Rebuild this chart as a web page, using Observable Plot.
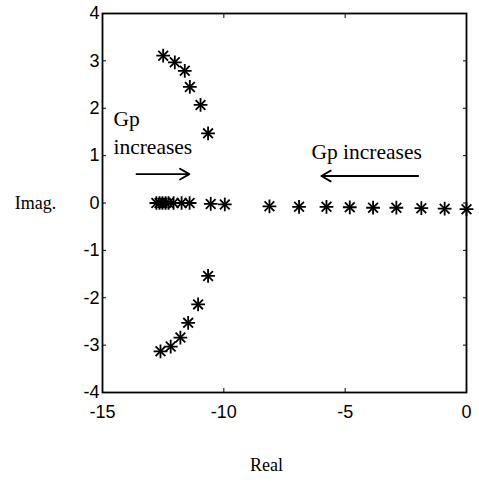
<!DOCTYPE html>
<html><head><meta charset="utf-8">
<script src="https://cdn.jsdelivr.net/npm/d3@7"></script>
<script src="https://cdn.jsdelivr.net/npm/@observablehq/plot@0.6"></script>
<style>body{margin:0;background:#fff}</style>
</head><body><div id="chart"></div>
<script>
// Upper complex branch
const upperX = [-12.50, -12.02, -11.61, -11.40, -10.96, -10.65];
const upperY = [3.11, 2.97, 2.79, 2.45, 2.07, 1.47];
// Lower complex branch
const lowerX = [-12.61, -12.19, -11.79, -11.47, -11.06, -10.65];
const lowerY = [-3.13, -3.03, -2.84, -2.53, -2.14, -1.54];
// Real-axis poles
const realX = [-12.78, -12.65, -12.53, -12.40, -12.28, -12.07, -11.74, -11.41, -10.54, -9.96, -8.12, -6.90, -5.77, -4.81, -3.85, -2.89, -1.86, -0.90, 0];
const realY = [0, 0, 0, 0, 0, 0, 0, 0, -0.02, -0.03, -0.07, -0.08, -0.08, -0.09, -0.10, -0.10, -0.11, -0.12, -0.13];
// Ticks
const xTicks = [-15, -10, -5, 0];
const yTicks = [-4, -3, -2, -1, 0, 1, 2, 3, 4];
// Annotations
const noteText = ["Gp", "increases", "Gp increases"];
const noteX = [-14.55, -14.55, -6.39];
const noteY = [1.63, 1.04, 0.92];
const arrowX1 = [-13.6, -1.99];
const arrowX2 = [-11.42, -5.98];
const arrowY = [0.61, 0.57];

const pts = [
  ...upperX.map((x, i) => ({x, y: upperY[i]})),
  ...lowerX.map((x, i) => ({x, y: lowerY[i]})),
  ...realX.map((x, i) => ({x, y: realY[i]}))
];
const notes = noteText.map((t, i) => ({t, x: noteX[i], y: noteY[i]}));
const arrows = arrowX1.map((x1, i) => ({x1, x2: arrowX2[i], y: arrowY[i]}));
const fmt = d => String(d); // hyphen-minus like the original

const sans = "'Liberation Sans', Arial, sans-serif";
const serif = "'Liberation Serif', 'Times New Roman', serif";

const chart = Plot.plot({
  width: 479,
  height: 482,
  marginLeft: 102,
  marginRight: 13,
  marginTop: 13,
  marginBottom: 90,
  style: {background: "#fff", color: "#000"},
  x: {domain: [-15, 0]},
  y: {domain: [-4, 4]},
  marks: [
    Plot.frame({stroke: "#000", strokeWidth: 1.8}),
    Plot.axisX({anchor: "bottom", ticks: xTicks, tickSize: 0, tickPadding: 13, tickFormat: fmt, label: null, fontSize: 18, fontFamily: sans}),
    Plot.axisY({anchor: "left", ticks: yTicks, tickSize: 0, tickPadding: 3, tickFormat: fmt, label: null, fontSize: 18, fontFamily: sans}),
    Plot.axisX({anchor: "bottom", ticks: xTicks, tickSize: -4, tickFormat: () => "", label: null}),
    Plot.axisX({anchor: "top", ticks: xTicks, tickSize: -4, tickFormat: () => "", label: null}),
    Plot.axisY({anchor: "left", ticks: yTicks, tickSize: -4, tickFormat: () => "", label: null}),
    Plot.axisY({anchor: "right", ticks: yTicks, tickSize: -4, tickFormat: () => "", label: null}),
    Plot.dot(pts, {x: "x", y: "y", symbol: "plus", r: 4.5, stroke: "#000", strokeWidth: 1.8}),
    Plot.dot(pts, {x: "x", y: "y", symbol: "times", r: 4.5, stroke: "#000", strokeWidth: 1.8}),
    Plot.text(notes, {x: "x", y: "y", text: "t", textAnchor: "start", lineAnchor: "bottom", fontSize: 21.5, fontFamily: serif, fill: "#000"}),
    Plot.arrow(arrows, {x1: "x1", x2: "x2", y1: "y", y2: "y", stroke: "#000", strokeWidth: 1.8, headLength: 9}),
    Plot.text(["Imag."], {frameAnchor: "left", dx: -67, textAnchor: "middle", fontSize: 18, fontFamily: serif, fill: "#000"}),
    Plot.text(["Real"], {frameAnchor: "bottom", dx: -18, dy: 78, lineAnchor: "bottom", fontSize: 18, fontFamily: serif, fill: "#000"})
  ]
});
document.getElementById("chart").appendChild(chart);
</script>
</body></html>
